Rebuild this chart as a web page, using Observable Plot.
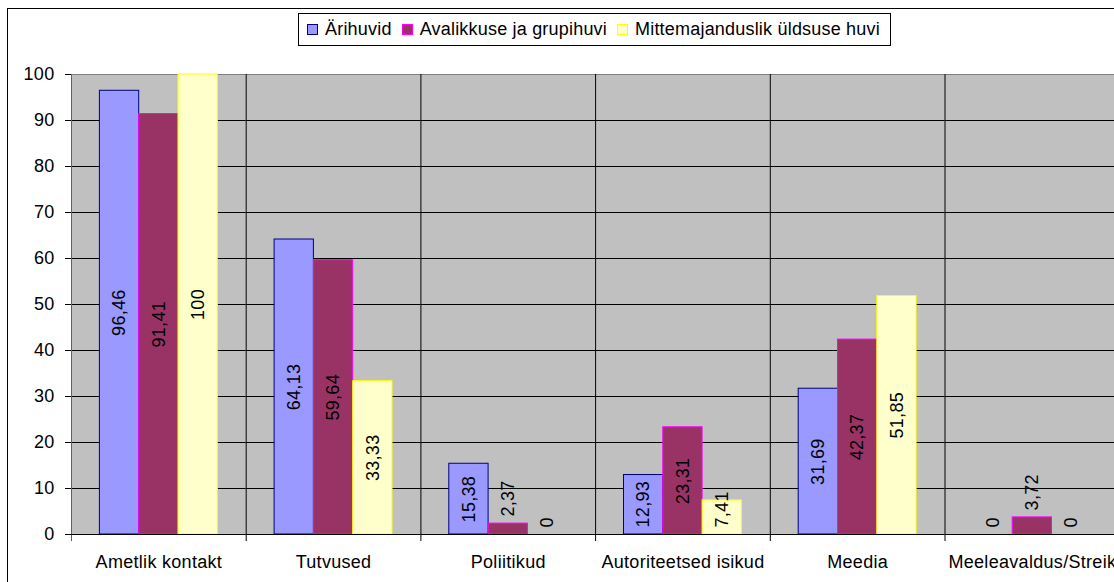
<!DOCTYPE html>
<html>
<head>
<meta charset="utf-8">
<script src="https://cdn.jsdelivr.net/npm/d3@7"></script>
<script src="https://cdn.jsdelivr.net/npm/@observablehq/plot@0.6"></script>
<style>
  html, body { margin: 0; padding: 0; background: white; overflow: hidden; width: 1114px; height: 582px; }
  #frame { position: absolute; left: 7px; top: 8px; width: 1300px; height: 700px; border-left: 1.5px solid #000; border-top: 1.5px solid #000; box-sizing: border-box; }
  #chart { position: absolute; left: 0; top: 0; }
  #legend { position: absolute; left: 298px; top: 13px; height: 33px; box-sizing: border-box; border: 1px solid #000; background: #fff;
            display: flex; align-items: center; padding: 0 10px 0 8px; font: 18px 'Liberation Sans', Arial, sans-serif; letter-spacing: 0.2px; white-space: nowrap; }
  .item { display: flex; align-items: center; margin-right: 10px; }
  .item:last-child { margin-right: 0; }
  .sw { width: 11px; height: 11px; box-sizing: border-box; border: 1px solid; margin-right: 7px; }
</style>
</head>
<body>
<div id="frame"></div>
<div id="chart"></div>
<div id="legend"></div>
<script>
// ---- data ----
const categories = ["Ametlik kontakt", "Tutvused", "Poliitikud", "Autoriteetsed isikud", "Meedia", "Meeleavaldus/Streik"];
const series = ["Ärihuvid", "Avalikkuse ja grupihuvi", "Mittemajanduslik üldsuse huvi"];
const ariHuvid = [96.46, 64.13, 15.38, 12.93, 31.69, 0];
const avalikkuseHuvi = [91.41, 59.64, 2.37, 23.31, 42.37, 3.72];
const uldsuseHuvi = [100, 33.33, 0, 7.41, 51.85, 0];
const yTicks = [0, 10, 20, 30, 40, 50, 60, 70, 80, 90, 100];

// ---- styles ----
const fills = ["#9999FF", "#993366", "#FFFFCC"];
const strokes = ["#000080", "#FF00FF", "#FFFF00"];

const valueLists = [ariHuvid, avalikkuseHuvi, uldsuseHuvi];
const data = [];
categories.forEach((c, i) => series.forEach((s, j) => data.push({category: c, series: s, si: j, value: valueLists[j][i]})));

const fmt = v => String(v).replace(".", ",");

const W = 1125, H = 582, mL = 71, mR = 5.8, mT = 74, mB = 48;
const k = (H - mT - mB) / 100; // px per unit
const ctx = document.createElement("canvas").getContext("2d");
ctx.font = "18px 'Liberation Sans'";
const labelLen = d => { const t = fmt(d.value); return ctx.measureText(t).width + 0.3 * t.length; };
const fitsInside = d => d.value * k >= 0.9 * labelLen(d);

const bars = series.map((s, j) => Plot.barY(data, {
  filter: d => d.si === j && d.value > 0,
  fx: "category", x: "series", y: "value",
  fill: fills[j], stroke: strokes[j], strokeWidth: 1
}));

const chart = Plot.plot({
  width: W, height: H,
  marginLeft: mL, marginRight: mR, marginTop: mT, marginBottom: mB,
  style: {fontFamily: "'Liberation Sans', Arial, sans-serif", fontSize: "18px", background: "transparent", maxWidth: "none", overflow: "visible", letterSpacing: "0.3px", color: "black"},
  fx: {domain: categories, padding: 0, round: false, label: null},
  x: {domain: series, paddingInner: 0, paddingOuter: 0.7225, round: false, axis: null},
  y: {domain: [0, 100], label: null},
  marks: [
    Plot.frame({fill: "#C0C0C0", stroke: "none"}),
    Plot.ruleY(yTicks.filter(t => t > 0 && t < 100), {stroke: "black"}),
    Plot.ruleY([100], {stroke: "#808080"}),
    Plot.frame({anchor: "left", stroke: "black", insetBottom: -6}),
    Plot.frame({anchor: "left", stroke: "#606060", insetBottom: -6, facetAnchor: "left"}),
    ...bars,
    Plot.ruleY([0], {stroke: "black"}),
    Plot.axisY({ticks: yTicks, tickSize: 6, tickPadding: 11, fontSize: 18, label: null, stroke: "black"}),
    Plot.axisFx({anchor: "bottom", tickSize: 0, tickPadding: 21, fontSize: 18, label: null}),
    Plot.text(data, {
      filter: d => fitsInside(d),
      fx: "category", x: "series",
      y: d => Math.max(d.value * k / 2, labelLen(d) / 2 + 7) / k,
      text: d => fmt(d.value), rotate: -90, textAnchor: "middle", fontSize: 18, fill: "black"
    }),
    Plot.text(data, {
      filter: d => !fitsInside(d),
      fx: "category", x: "series",
      y: d => d.value + 7 / k,
      text: d => fmt(d.value), rotate: -90, textAnchor: "start", fontSize: 18, fill: "black"
    })
  ]
});
document.getElementById("chart").appendChild(chart);

// ---- legend ----
const legend = document.getElementById("legend");
series.forEach((s, j) => {
  const it = document.createElement("div");
  it.className = "item";
  const sw = document.createElement("div");
  sw.className = "sw";
  sw.style.background = fills[j];
  sw.style.borderColor = strokes[j];
  const tx = document.createElement("span");
  tx.textContent = s;
  it.appendChild(sw); it.appendChild(tx);
  legend.appendChild(it);
});
</script>
</body>
</html>
